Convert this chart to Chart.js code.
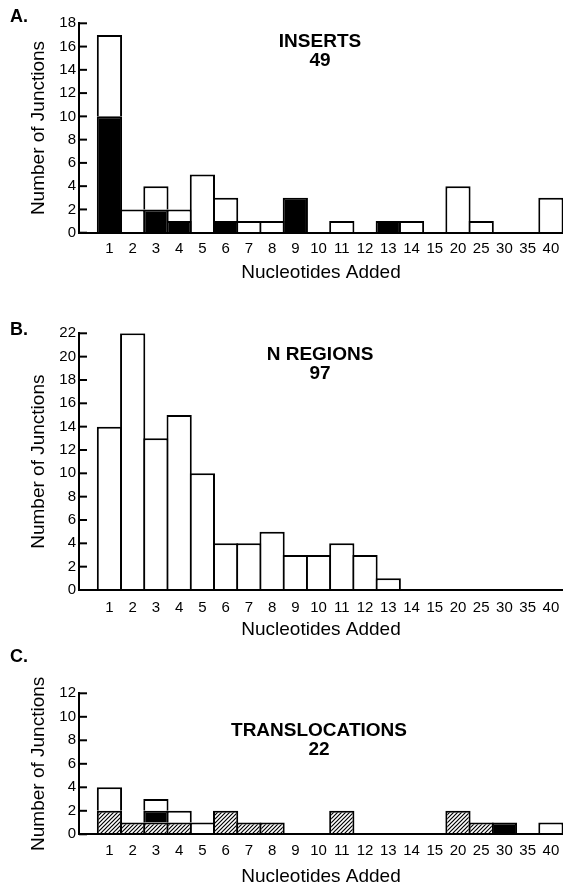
<!DOCTYPE html>
<html>
<head>
<meta charset="utf-8">
<script src="https://cdn.jsdelivr.net/npm/chart.js@4/dist/chart.umd.min.js"></script>
<style>
  html, body { margin: 0; background: #fff; }
  #page { position: relative; width: 563px; height: 886px; overflow: hidden;
          font-family: "Liberation Sans", Arial, sans-serif; color: #000; }
  canvas { position: absolute; left: 0; }
  .letter { position: absolute; left: 10px; font-size: 18px; font-weight: bold; line-height: 18px; }
  .label { position: absolute; width: 240px; text-align: center;
           font-size: 19px; font-weight: bold; line-height: 19px; }
</style>
</head>
<body>
<div id="page">
  <canvas id="chart-a" style="top:0" width="563" height="290"></canvas>
  <canvas id="chart-b" style="top:290px" width="563" height="360"></canvas>
  <canvas id="chart-c" style="top:650px" width="563" height="236"></canvas>

  <div class="letter" style="top:7px">A.</div>
  <div class="letter" style="top:320px">B.</div>
  <div class="letter" style="top:647px">C.</div>

  <div class="label" style="left:200px; top:31px">INSERTS<br>49</div>
  <div class="label" style="left:200px; top:344px">N REGIONS<br>97</div>
  <div class="label" style="left:199px; top:720px">TRANSLOCATIONS<br>22</div>
</div>

<script>
// ── 데이터 ──────────────────────────────────────────
const NUCLEOTIDES = ["1", "2", "3", "4", "5", "6", "7", "8", "9", "10",
                     "11", "12", "13", "14", "15", "20", "25", "30", "35", "40"];

// A. INSERTS (검정 = 아래, 흰색 = 위)
const insertsBlack = [10, 0, 2, 1, 0, 1, 0, 0, 3, 0, 0, 0, 1, 0, 0, 0, 0, 0, 0, 0];
const insertsWhite = [7, 2, 2, 1, 5, 2, 1, 1, 0, 0, 1, 0, 0, 1, 0, 4, 1, 0, 0, 3];

// B. N REGIONS
const nRegions = [14, 22, 13, 15, 10, 4, 4, 5, 3, 3, 4, 3, 1, 0, 0, 0, 0, 0, 0, 0];

// C. TRANSLOCATIONS (빗금 = 아래, 검정 = 중간, 흰색 = 위)
const transHatched = [2, 1, 1, 1, 0, 2, 1, 1, 0, 0, 2, 0, 0, 0, 0, 2, 1, 0, 0, 0];
const transBlack   = [0, 0, 1, 0, 0, 0, 0, 0, 0, 0, 0, 0, 0, 0, 0, 0, 0, 1, 0, 0];
const transWhite   = [2, 0, 1, 1, 1, 0, 0, 0, 0, 0, 0, 0, 0, 0, 0, 0, 0, 0, 0, 1];

const X_MIN = -0.31;
const X_MAX = 20.52;

Chart.defaults.font.family = '"Liberation Sans", Arial, sans-serif';
Chart.defaults.color = "#000";

const toPoints = (values) => values.map((v, i) => ({ x: i + 1, y: v || null }));

// ── 빗금 패턴 ──────────────────────────────────────────────
function hatch(ctx) {
  const c = document.createElement("canvas");
  c.width = 4;
  c.height = 4;
  const g = c.getContext("2d");
  g.fillStyle = "#fff";
  g.fillRect(0, 0, 4, 4);
  g.strokeStyle = "#000";
  g.lineWidth = 1.2;
  g.beginPath();
  g.moveTo(0, 4); g.lineTo(4, 0);
  g.moveTo(-1, 1); g.lineTo(1, -1);
  g.moveTo(3, 5); g.lineTo(5, 3);
  g.stroke();
  return ctx.createPattern(c, "repeat");
}

// y축 눈금은 축 안쪽으로
const innerTicks = {
  id: "innerTicks",
  afterDraw(chart) {
    const y = chart.scales.y;
    const ctx = chart.ctx;
    const x0 = chart.chartArea.left;
    ctx.save();
    ctx.strokeStyle = "#000";
    ctx.lineWidth = 2;
    y.ticks.forEach((t) => {
      const py = y.getPixelForValue(t.value);
      ctx.beginPath();
      ctx.moveTo(x0, py);
      ctx.lineTo(x0 + 8, py);
      ctx.stroke();
    });
    ctx.restore();
  },
};

function bars(values, fill) {
  return {
    data: toPoints(values),
    backgroundColor: fill,
    borderColor: "#000",
    borderWidth: 2,
    barPercentage: 1.086,
    categoryPercentage: 1,
  };
}

function makeChart(id, datasets, p) {
  return new Chart(document.getElementById(id), {
    type: "bar",
    data: { datasets },
    plugins: [innerTicks],
    options: {
      responsive: false,
      animation: false,
      events: [],
      layout: { padding: { top: p.top, left: 0, right: 0, bottom: 0 }, autoPadding: false },
      plugins: { legend: { display: false }, tooltip: { enabled: false } },
      scales: {
        x: {
          type: "linear",
          offset: false,
          stacked: true,
          min: X_MIN,
          max: X_MAX,
          afterBuildTicks: (s) => { s.ticks = NUCLEOTIDES.map((_, i) => ({ value: i + 1 })); },
          afterFit: (s) => {
            s.height = p.axisH;
            s.paddingLeft = 0;
            s.paddingRight = 0;
          },
          grid: { display: false, drawTicks: false, offset: false },
          border: { display: true, color: "#000", width: 2, z: 1 },
          ticks: {
            callback: (v, i) => NUCLEOTIDES[i],
            autoSkip: false, maxRotation: 0, padding: p.labelPad,
            font: { size: 15 },
          },
          title: {
            display: true, text: "Nucleotides Added",
            font: { size: 19, lineHeight: 1 },
            padding: { top: 0, bottom: p.titlePad },
          },
        },
        y: {
          stacked: true,
          min: 0,
          max: p.yMax,
          afterFit: (s) => {
            s.width = 79;
            s.paddingTop = 0;
            s.paddingBottom = 0;
          },
          grid: { display: false, drawTicks: false },
          border: { display: true, color: "#000", width: 2, z: 1 },
          ticks: { stepSize: 2, padding: 3, font: { size: 15 } },
          title: {
            display: true, text: "Number of Junctions",
            font: { size: 19, lineHeight: 1 },
            padding: { top: 29, bottom: 0 },
          },
        },
      },
    },
  });
}

makeChart("chart-a", [bars(insertsBlack, "#000"), bars(insertsWhite, "#fff")],
  { top: 23.3, axisH: 57.3, yMax: 18, labelPad: 7, titlePad: 7.5 });

makeChart("chart-b", [bars(nRegions, "#fff")],
  { top: 43.3, axisH: 60, yMax: 22, labelPad: 9, titlePad: 10.5 });

const ctxC = document.getElementById("chart-c").getContext("2d");
makeChart("chart-c",
  [bars(transHatched, hatch(ctxC)), bars(transBlack, "#000"), bars(transWhite, "#fff")],
  { top: 43.3, axisH: 51.7, yMax: 12, labelPad: 8, titlePad: 0 });
</script>
</body>
</html>
